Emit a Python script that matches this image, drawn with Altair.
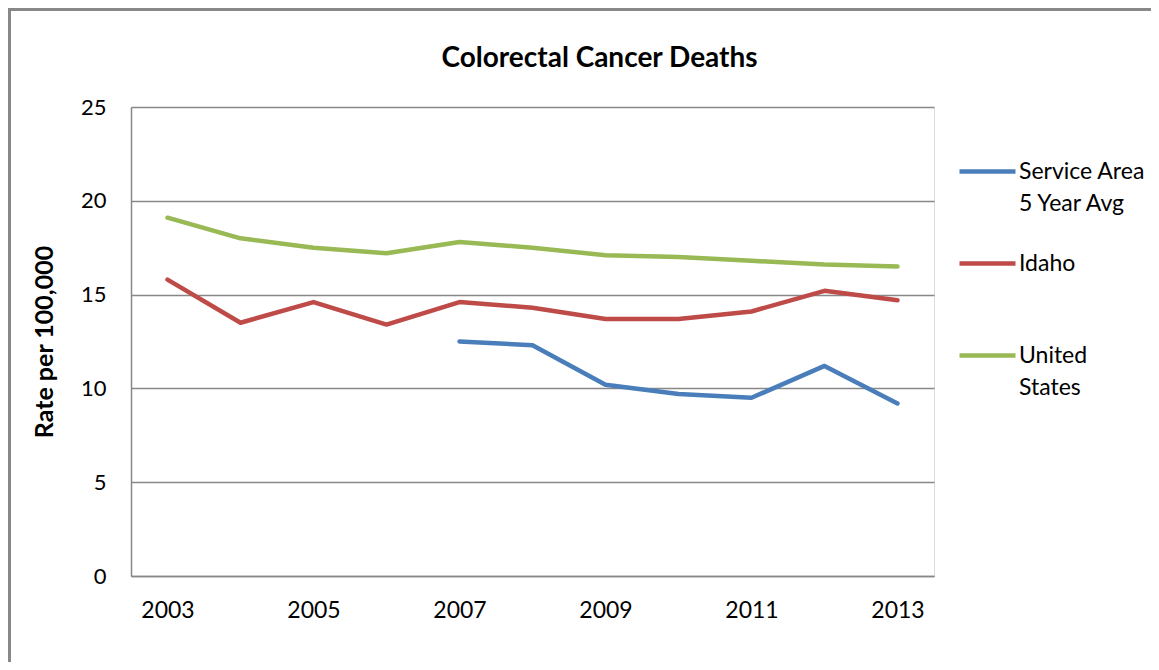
import altair as alt
import pandas as pd

years = [str(y) for y in range(2003, 2014)]
service_area = [None, None, None, None, 12.5, 12.3, 10.2, 9.7, 9.5, 11.2, 9.2]
idaho = [15.8, 13.5, 14.6, 13.4, 14.6, 14.3, 13.7, 13.7, 14.1, 15.2, 14.7]
united_states = [19.1, 18.0, 17.5, 17.2, 17.8, 17.5, 17.1, 17.0, 16.8, 16.6, 16.5]
series_names = ["Service Area 5 Year Avg", "Idaho", "United States"]
legend_lines = [["Service Area", "5 Year Avg"], ["Idaho", ""], ["United", "States"]]
series_colors = ["#4A7EBB", "#BE4B48", "#98B954"]
x_tick_labels = ["2003", "2005", "2007", "2009", "2011", "2013"]
y_ticks = [0, 5, 10, 15, 20, 25]

rows = []
for name, vals in zip(series_names, [service_area, idaho, united_states]):
    for y, v in zip(years, vals):
        if v is not None:
            rows.append({"Year": y, "Series": name, "Rate": v})
df = pd.DataFrame(rows)

# legend labels split over two lines (Idaho gets an empty 2nd line so all
# entries are equally tall)
expr = "datum.label"
for name, ls in zip(series_names, legend_lines):
    arr = "[" + ", ".join("'%s'" % s for s in ls) + "]"
    expr = "datum.label == '%s' ? %s : (%s)" % (name, arr, expr)

FONT = "Lato"
W, H = 803, 469
PL, PT, PR, PB = 123, 99, 217, 86

lines = alt.Chart(df).mark_line(strokeWidth=4.5, strokeCap="round", strokeJoin="round").encode(
    x=alt.X("Year:O", sort=years,
            scale=alt.Scale(type="point", padding=0.5, domain=years),
            axis=alt.Axis(title=None, values=x_tick_labels, labelAngle=0, ticks=False,
                          domainColor="#888888", domainWidth=1.5, labelPadding=23,
                          labelFontSize=23, labelFont=FONT, labelColor="#000000", grid=False)),
    y=alt.Y("Rate:Q", scale=alt.Scale(domain=[0, 25], nice=False),
            axis=alt.Axis(title="Rate per 100,000", values=y_ticks,
                          ticks=False, domainColor="#888888", domainWidth=1.5,
                          gridColor="#888888", gridWidth=1.5, labelPadding=25,
                          labelFontSize=22, labelFont=FONT, labelColor="#000000",
                          titleFont=FONT, titleFontSize=25, titleFontWeight="bold",
                          titleColor="#000000", titlePadding=23)),
    color=alt.Color("Series:N", sort=series_names,
                    scale=alt.Scale(domain=series_names, range=series_colors),
                    legend=alt.Legend(title=None, orient="none", legendX=W + 23, legendY=34,
                                      symbolType="stroke", symbolSize=3136, symbolStrokeWidth=4.5,
                                      labelFont=FONT, labelFontSize=23, labelColor="#000000",
                                      labelOffset=1, rowPadding=17, labelLimit=300,
                                      labelExpr=expr, labelBaseline="middle")),
)

frame = alt.Chart(pd.DataFrame({"a": [0]})).mark_rect(
    fill=None, stroke="#888888", strokeWidth=3, clip=False
).encode(
    x=alt.value(-PL + 1.5), x2=alt.value(W + PR + 10),
    y=alt.value(-PT + 1.5), y2=alt.value(H + PB + 10),
)

chart = alt.layer(frame, lines).properties(
    width=W, height=H,
    autosize=alt.AutoSizeParams(type="none"),
    padding={"left": PL, "top": PT, "right": PR, "bottom": PB},
    title=alt.TitleParams("Colorectal Cancer Deaths", font=FONT, fontSize=28, fontWeight="bold",
                          color="#000000", anchor="middle", frame="group", dx=67, offset=-65),
).configure_view(stroke=None).configure(style={"guide-label": {"lineHeight": 32}})

chart.save("out.html", embed_options={"renderer": "svg", "actions": False})
